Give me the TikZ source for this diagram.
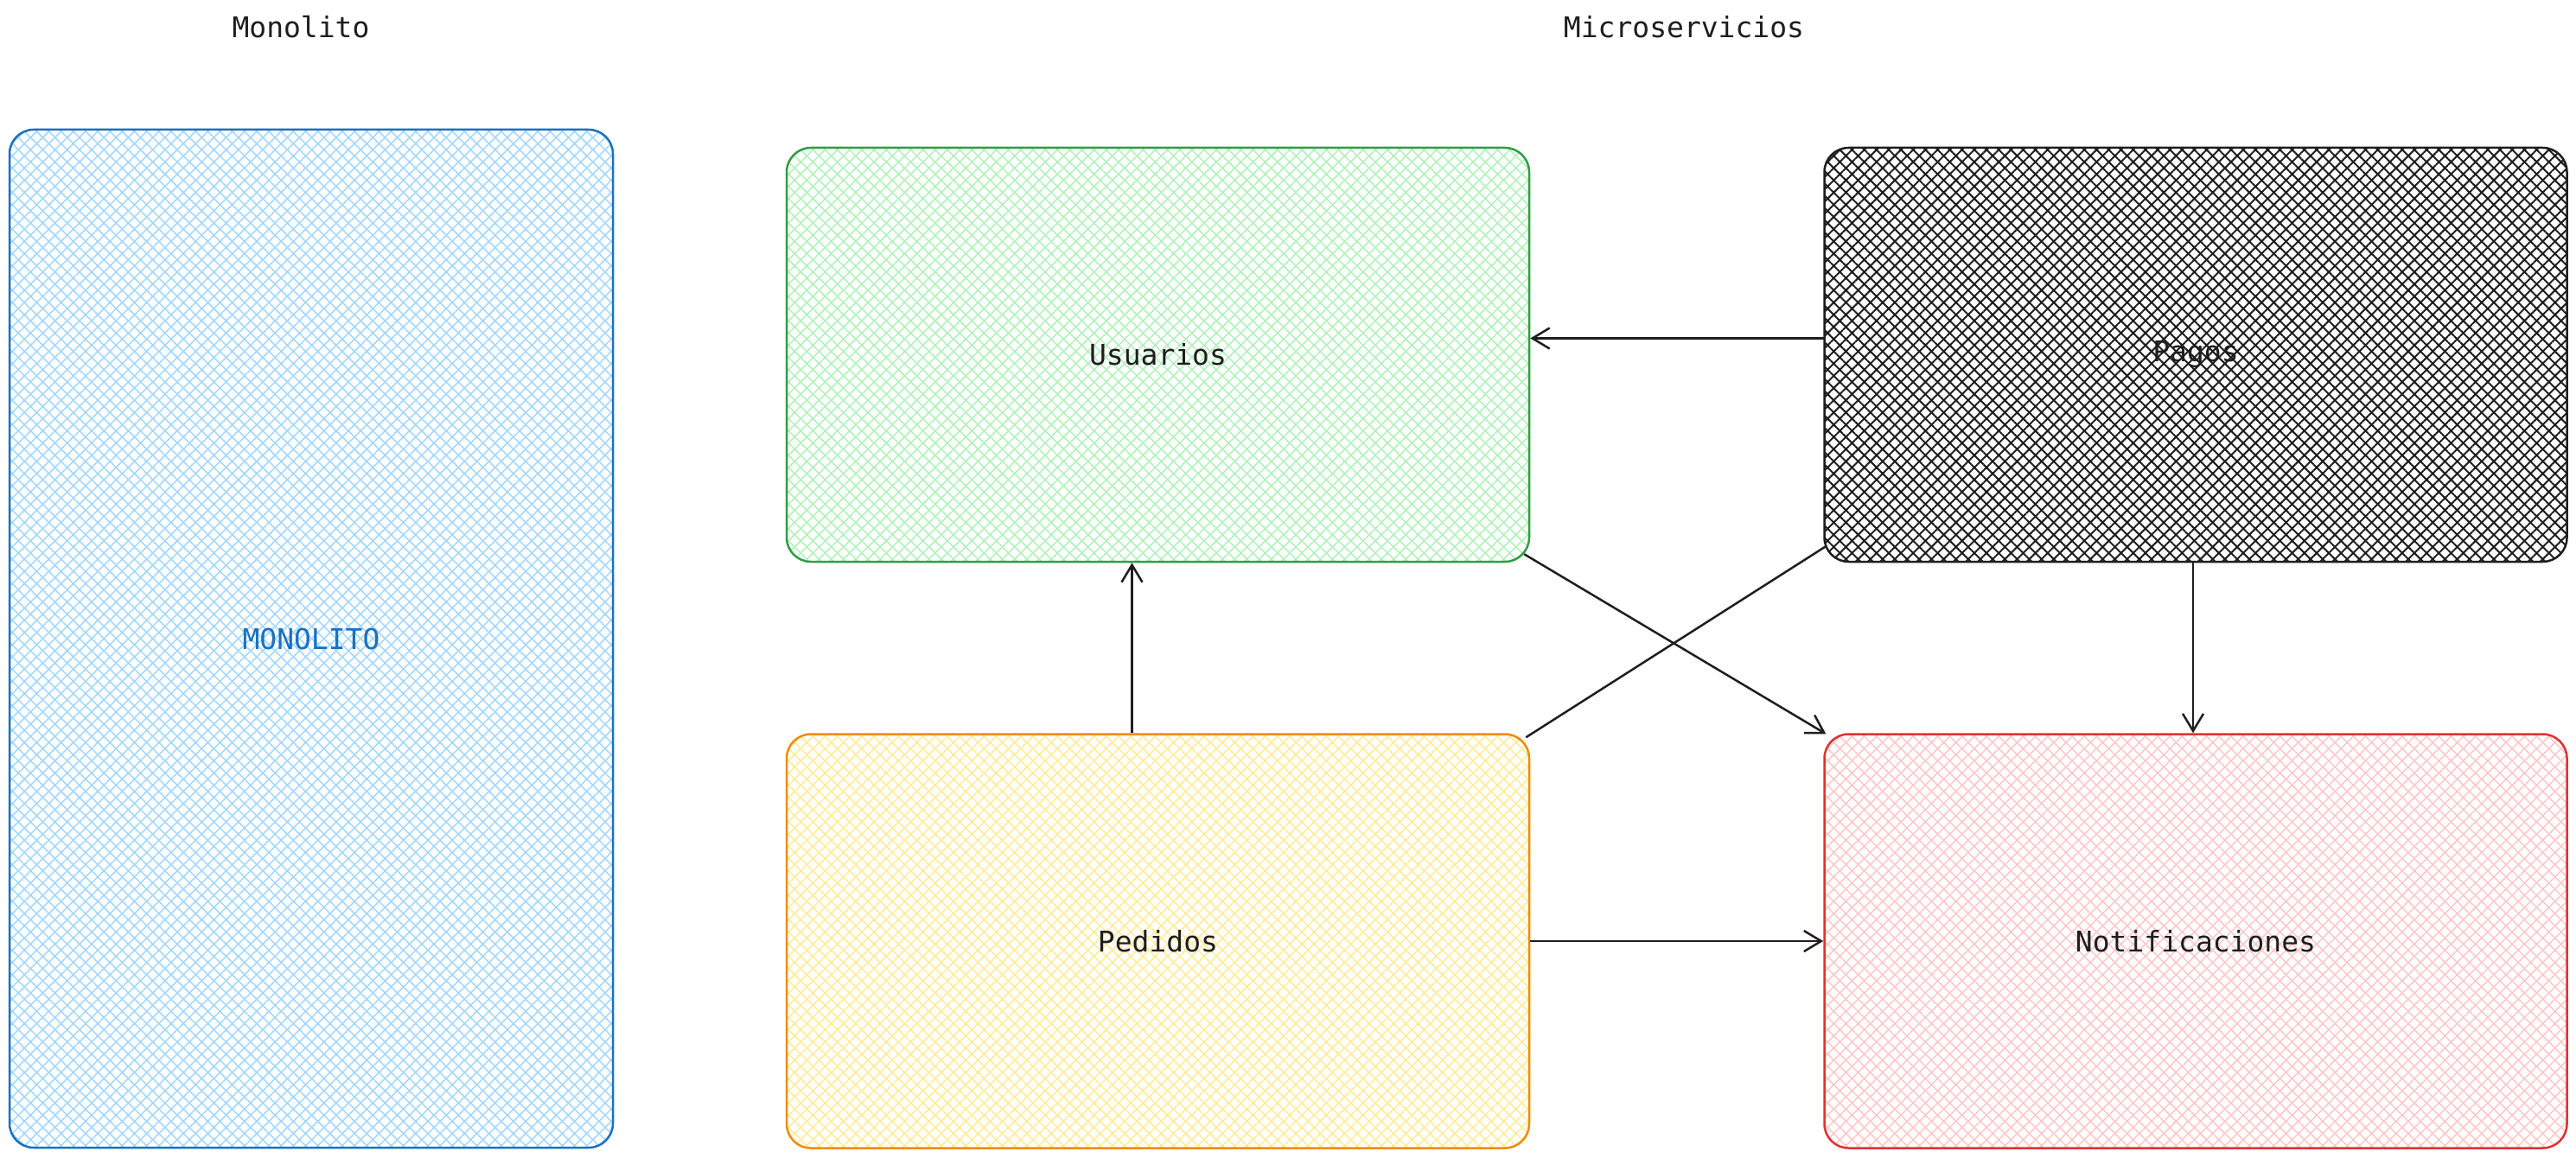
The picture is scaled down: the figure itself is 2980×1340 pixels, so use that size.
\documentclass[tikz,border=0pt]{standalone}
\usepackage{fontspec}
\setmainfont{DejaVu Sans Mono}
\usetikzlibrary{patterns.meta,arrows.meta,calc}
\definecolor{ink}{HTML}{1E1E1E}
\definecolor{blueS}{HTML}{1971C2}
\definecolor{blueF}{HTML}{A5D8FF}
\definecolor{greenS}{HTML}{2F9E44}
\definecolor{greenF}{HTML}{B2F2BB}
\definecolor{orangeS}{HTML}{F08C00}
\definecolor{orangeF}{HTML}{FFEC99}
\definecolor{redS}{HTML}{E03131}
\definecolor{redF}{HTML}{FFC9C9}
\tikzset{
  box/.style={draw, rectangle, line width=2.5pt, rounded corners=28pt,
    text=ink, font=\fontsize{33pt}{40pt}\selectfont,
    pattern={Hatch[angle=45,distance=10pt,line width=1.6pt]}},
  small/.style={minimum width=859pt, minimum height=479pt},
  title/.style={text=ink, font=\fontsize{33pt}{40pt}\selectfont},
  arr/.style={draw=ink, line width=2.5pt, -{Straight Barb[length=20pt,width=24pt,line width=2.5pt]}},
  conn/.style={draw=ink, line width=2.5pt}
}
\begin{document}
\begin{tikzpicture}[x=1pt,y=-1pt]
\useasboundingbox (0,0) rectangle (2980,1340);
\node[title] (t1) at (348,31) {Monolito};
\node[title] (t2) at (1948,31) {Microservicios};
\node[box, draw=blueS, pattern color=blueF, text=blueS, minimum width=698pt, minimum height=1178pt] (mono) at (360,739) {MONOLITO};
\node[box, small, draw=greenS, pattern color=greenF] (usr) at (1339.5,410.5) {Usuarios};
\node[box, small, draw=ink, pattern color=ink, pattern={Hatch[angle=45,distance=10pt,line width=2pt]}] (pag) at (2540,410.5) {Pagos};
\node[box, small, draw=orangeS, pattern color=orangeF] (ped) at (1339.5,1089) {Pedidos};
\node[box, small, draw=redS, pattern color=redF] (noti) at (2540,1089) {Notificaciones};
\draw[arr] ([yshift=19pt]pag.west) -- ([yshift=19pt]usr.east);
\draw[arr] ([xshift=-30pt]ped.north) -- ([xshift=-30pt]usr.south);
\draw[arr] ($(usr.south east)+(-7,-10)$) -- ($(noti.north west)+(3,1)$);
\draw[conn] ($(ped.north east)+(-5,5)$) -- ($(pag.south west)+(3,-19)$);
\draw[arr] ([xshift=-3pt]pag.south) -- ([xshift=-3pt]noti.north);
\draw[arr] (ped.east) -- (noti.west);
\end{tikzpicture}
\end{document}
